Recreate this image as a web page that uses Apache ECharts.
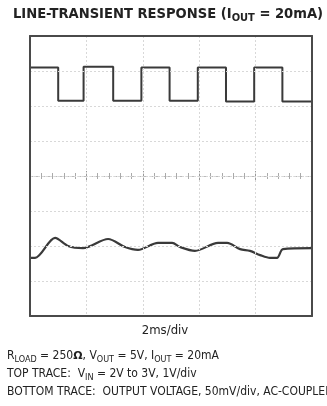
<!DOCTYPE html>
<html><head><meta charset="utf-8">
<script src="https://cdn.jsdelivr.net/npm/echarts@6/dist/echarts.min.js"></script>
<style>html,body{margin:0;padding:0;background:#fff}#c{width:327px;height:406px}</style>
</head><body><div id="c"></div>
<script>
// Time axis (ms) and vertical divisions
const timeMin = 0, timeMax = 10, timeStep = 2;   // 2ms/div
const divMin = 0, divMax = 8, divStep = 1;

// Top trace: VIN square wave (in screen divisions), transitions in ms
const topEdgesMs = [1.0, 1.9, 2.95, 3.95, 4.95, 5.95, 6.95, 7.95, 8.95];
const topLevelsDiv = [7.1, 6.15, 7.12, 6.15, 7.1, 6.15, 7.1, 6.13, 7.1, 6.13];

// Bottom trace: output voltage (AC-coupled), in divisions
const bottomTimeMs = [0, 0.18, 0.89, 1.35, 1.88, 2.77, 3.37, 3.83, 4.54, 5.04, 5.32, 5.85, 6.67, 6.99, 7.45, 7.80, 8.16, 8.51, 8.76, 8.97, 10];
const bottomDiv    = [1.66, 1.66, 2.23, 2.0, 1.94, 2.2, 1.97, 1.89, 2.09, 2.09, 1.97, 1.86, 2.09, 2.09, 1.91, 1.86, 1.74, 1.66, 1.66, 1.91, 1.94];

const topData = [];
let prevT = timeMin;
topLevelsDiv.forEach((lv, i) => {
  const endT = i < topEdgesMs.length ? topEdgesMs[i] : timeMax;
  topData.push([prevT, lv]);
  topData.push([endT, lv]);
  prevT = endT;
});
const bottomData = bottomTimeMs.map((t, i) => [t, bottomDiv[i]]);

const FONT = '"Liberation Sans Narrow","DejaVu Sans Condensed","Liberation Sans",sans-serif';
const FRAME = { show: true, onZero: false, lineStyle: { color: '#4a4a4a', width: 2 } };
const GRIDLINE = { show: true, lineStyle: { color: '#d8d8d8', type: [2, 2], width: 1 } };
const none = { show: false };
const chart = echarts.init(document.getElementById('c'));
chart.setOption({
  animation: false,
  backgroundColor: '#fff',
  grid: { left: 30, top: 36, width: 282, height: 280 },
  xAxis: [
    { type: 'value', min: timeMin, max: timeMax, interval: timeStep, position: 'bottom',
      axisLine: FRAME, axisTick: none, axisLabel: none, splitLine: GRIDLINE, z: 5 },
    { type: 'value', min: timeMin, max: timeMax, interval: timeStep, position: 'top',
      axisLine: FRAME, axisTick: none, axisLabel: none, splitLine: none, z: 5 },
    { type: 'value', min: timeMin, max: timeMax, interval: timeStep, position: 'bottom', offset: -140,
      axisLine: { show: true, onZero: false, lineStyle: { color: '#bbb', type: [3, 3], width: 1 } },
      axisTick: { show: true, inside: true, length: 5, lineStyle: { color: '#999' } },
      minorTick: { show: true, splitNumber: 5, length: 3, lineStyle: { color: '#aaa' } },
      axisLabel: none, splitLine: none },
    { type: 'value', min: timeMin, max: timeMax, interval: timeStep, position: 'bottom', offset: -140,
      axisLine: { show: false, onZero: false },
      axisTick: { show: true, inside: false, length: 5, lineStyle: { color: '#999' } },
      minorTick: { show: true, splitNumber: 5, length: 3, lineStyle: { color: '#aaa' } },
      axisLabel: none, splitLine: none }
  ],
  yAxis: [
    { type: 'value', min: divMin, max: divMax, interval: divStep, position: 'left',
      axisLine: FRAME, axisTick: none, axisLabel: none, splitLine: GRIDLINE, z: 5 },
    { type: 'value', min: divMin, max: divMax, interval: divStep, position: 'right',
      axisLine: FRAME, axisTick: none, axisLabel: none, splitLine: none, z: 5 }
  ],
  series: [
    { type: 'line', xAxisIndex: 0, yAxisIndex: 0, data: topData, symbol: 'none', lineStyle: { color: '#3a3a3a', width: 2 } },
    { type: 'line', xAxisIndex: 0, yAxisIndex: 0, data: bottomData, symbol: 'none', smooth: 0.3, lineStyle: { color: '#3a3a3a', width: 2.2 } }
  ],
  graphic: [
    { type: 'text', x: 168, y: 4, style: {
      align: 'center',
      text: '{b|LINE-TRANSIENT RESPONSE (I}{bs|OUT}{b| = 20mA)}',
      rich: { b: { fontFamily: FONT, fontWeight: 'bold', fontSize: 14.6, fill: '#222', verticalAlign: 'middle', lineHeight: 20 },
              bs: { fontFamily: FONT, fontWeight: 'bold', fontSize: 11, fill: '#222', verticalAlign: 'bottom', lineHeight: 11 } } } },
    { type: 'text', x: 165, y: 324, style: { text: '2ms/div', fontFamily: FONT, fontSize: 13, fill: '#222', align: 'center' } },
    { type: 'text', x: 7, y: 348, style: {
      text: '{n|R}{s|LOAD}{n| = 250}{o|Ω}{n|, V}{s|OUT}{n| = 5V, I}{s|OUT}{n| = 20mA}',
      rich: { n: { fontFamily: FONT, fontSize: 12, fill: '#222', verticalAlign: 'middle', lineHeight: 16 },
              o: { fontFamily: '"DejaVu Sans", sans-serif', fontWeight: 'bold', fontSize: 11, fill: '#222', verticalAlign: 'middle', lineHeight: 16 },
              s: { fontFamily: FONT, fontSize: 9, fill: '#222', verticalAlign: 'bottom', lineHeight: 9 } } } },
    { type: 'text', x: 7, y: 366, style: {
      text: '{n|TOP TRACE:  V}{s|IN}{n| = 2V to 3V, 1V/div}',
      rich: { n: { fontFamily: FONT, fontSize: 12, fill: '#222', verticalAlign: 'middle', lineHeight: 16 },
              s: { fontFamily: FONT, fontSize: 9, fill: '#222', verticalAlign: 'bottom', lineHeight: 9 } } } },
    { type: 'text', x: 7, y: 386, style: { text: 'BOTTOM TRACE:  OUTPUT VOLTAGE, 50mV/div, AC-COUPLED', fontFamily: FONT, fontSize: 12, fill: '#222' } }
  ]
});
</script></body></html>
